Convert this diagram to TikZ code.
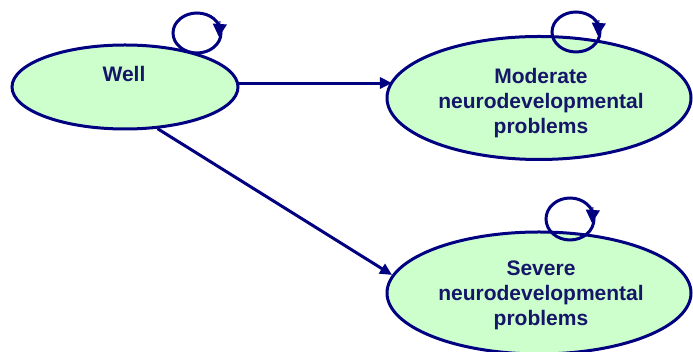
\documentclass[tikz,border=0pt]{standalone}
\usepackage{fontspec}
\setmainfont{Liberation Sans}
\usetikzlibrary{shapes.geometric,arrows.meta}
\definecolor{edge}{RGB}{0,0,128}
\definecolor{ink}{RGB}{22,22,104}
\definecolor{statefill}{RGB}{204,255,204}
\tikzset{
  state/.style={ellipse, draw=edge, fill=statefill, line width=3pt, inner sep=0pt},
  lbl/.style={text=ink, font=\fontsize{21}{25}\selectfont\bfseries, align=center, inner sep=0pt},
  conn/.style={draw=edge, line width=3pt, -{Triangle[length=12pt,width=11pt]}},
  selfloop/.style={draw=edge, line width=3pt},
  looptip/.style={draw=edge, line width=1pt, -{Triangle[length=13pt,width=14pt]}}
}
\begin{document}
\begin{tikzpicture}[x=1pt,y=1pt]
\useasboundingbox (0,0) rectangle (693,352);

% states
\node[state, minimum width=226, minimum height=84] (well) at (125,265) {};
\node[lbl] (wellt) at (124,278) {Well};

\node[state, minimum width=304, minimum height=123] (mod) at (539,254) {};
\node[lbl] (modt) at (541,249) {Moderate\\neurodevelopmental\\problems};

\node[state, minimum width=304, minimum height=122] (sev) at (539,59) {};
\node[lbl] (sevt) at (541,57) {Severe\\neurodevelopmental\\problems};

% transitions between states
\draw[conn] (well.2.5) -- (mod.173.8 |- well.2.5);
\draw[conn] (well.-52) -- (sev.173);

% self-transitions: a closed loop with a tip on its right side
\coordinate (wl) at (197,319);
\coordinate (ml) at (576,320);
\coordinate (sl) at (570,133);
\foreach \c/\ry in {wl/20, ml/20, sl/21}{
  \draw[selfloop] (\c) ellipse [x radius=24, y radius=\ry];
  \draw[looptip] (\c) ++(23,12) -- ++(-1,-16);
}
\end{tikzpicture}
\end{document}
